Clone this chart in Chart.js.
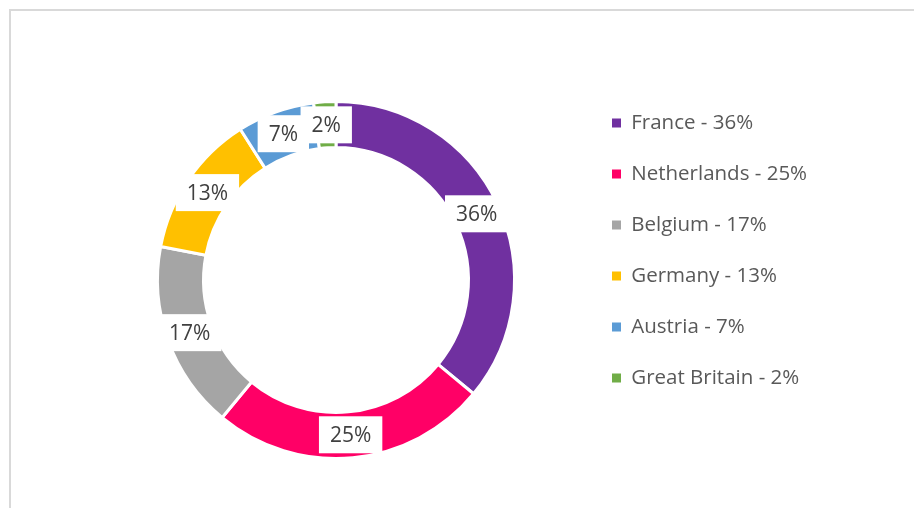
<!DOCTYPE html>
<html>
<head>
<meta charset="utf-8">
<title>Share by country</title>
<script src="https://cdn.jsdelivr.net/npm/chart.js@4/dist/chart.umd.min.js"></script>
<style>
    html, body {
        margin: 0;
        padding: 0;
        background: #ffffff;
        overflow: hidden;
        width: 914px;
        height: 508px;
    }
    .frame {
        position: absolute;
        left: 9px;
        top: 9px;
        width: 1200px;
        height: 800px;
        border: 2px solid #d9d9d9;
        box-sizing: border-box;
    }
    #chart {
        position: absolute;
        left: 0;
        top: 0;
    }
</style>
</head>
<body>
<div class="frame"></div>
<canvas id="chart" width="914" height="508"></canvas>
<script>
const countries = ['France', 'Netherlands', 'Belgium', 'Germany', 'Austria', 'Great Britain'];
const shares = [36, 25, 17, 13, 7, 2];
const sliceColors = ['#7030A0', '#FF0066', '#A5A5A5', '#FFC000', '#5B9BD5', '#70AD47'];

const FONT = '"Open Sans", "Noto Sans", sans-serif';
const legendFontSize = 20.5;
const labelFontSize = 21;

function legendText(i) {
    return countries[i] + ' - ' + shares[i] + '%';
}

// legend sits to the right of the ring; work out its width so the boxes line up
const legendPadding = 30.5;
const legendBox = 9;
const measureCtx = document.createElement('canvas').getContext('2d');
measureCtx.font = legendFontSize + 'px ' + FONT;
let widest = 0;
countries.forEach((c, i) => {
    widest = Math.max(widest, measureCtx.measureText(legendText(i)).width);
});
const legendWidth = legendPadding + legendBox + legendFontSize / 2 + widest + 10;
const legendLeft = 581.5;
const centerX = 336;
const padRight = 914 - legendLeft - legendWidth;
const padLeft = centerX - (legendLeft - centerX);

// white boxes with the percentage in the middle of each slice
const sliceLabels = {
    id: 'sliceLabels',
    afterDatasetsDraw(chart) {
        const ctx = chart.ctx;
        const meta = chart.getDatasetMeta(0);
        ctx.save();
        ctx.font = labelFontSize + 'px ' + FONT;
        ctx.textAlign = 'center';
        ctx.textBaseline = 'middle';
        meta.data.forEach((arc, i) => {
            const pos = arc.getCenterPoint();
            const text = shares[i] + '%';
            const w = ctx.measureText(text).width + 22;
            const h = 37;
            ctx.fillStyle = '#ffffff';
            ctx.fillRect(pos.x - w / 2, pos.y - h / 2, w, h);
            ctx.fillStyle = '#404040';
            ctx.fillText(text, pos.x, pos.y + 1);
        });
        ctx.restore();
    }
};

const chart = new Chart(document.getElementById('chart').getContext('2d'), {
    type: 'doughnut',
    data: {
        labels: countries,
        datasets: [{
            data: shares,
            backgroundColor: sliceColors,
            borderColor: '#ffffff',
            borderWidth: 3,
            radius: 178.5,
            cutout: '74.2%'
        }]
    },
    options: {
        responsive: false,
        devicePixelRatio: 1,
        animation: false,
        layout: {
            padding: {
                top: 82.25,
                bottom: 30.25,
                left: padLeft,
                right: padRight
            }
        },
        plugins: {
            tooltip: { enabled: false },
            legend: {
                position: 'right',
                align: 'start',
                labels: {
                    boxWidth: legendBox,
                    boxHeight: legendBox,
                    padding: legendPadding,
                    color: '#595959',
                    font: { family: FONT, size: legendFontSize },
                    generateLabels(chart) {
                        const base = Chart.overrides.doughnut.plugins.legend.labels.generateLabels(chart);
                        return base.map((item, i) => Object.assign(item, {
                            text: legendText(i),
                            lineWidth: 0,
                            strokeStyle: item.fillStyle
                        }));
                    }
                }
            }
        }
    },
    plugins: [sliceLabels]
});
</script>
</body>
</html>
